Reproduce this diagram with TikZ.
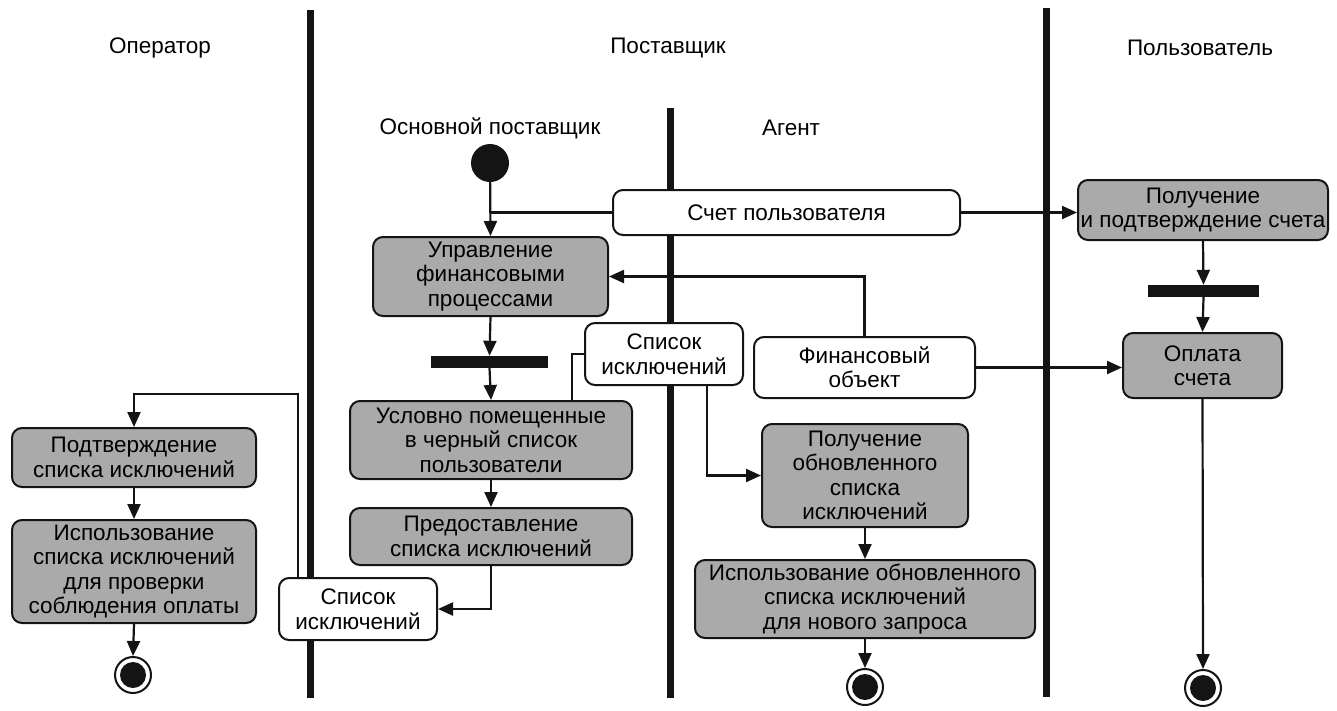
\documentclass[tikz,border=0pt]{standalone}
\usepackage{fontspec}
\setmainfont{Liberation Sans}
\usetikzlibrary{arrows.meta}
\definecolor{boxgray}{RGB}{170,170,170}
\definecolor{ink}{RGB}{20,20,20}
\tikzset{
  act/.style={draw=ink, line width=2pt, rounded corners=10pt, fill=boxgray, align=center, inner sep=0pt, font=\fontsize{22.5}{24.5}\selectfont},
  obj/.style={draw=ink, line width=2pt, rounded corners=10pt, fill=white, align=center, inner sep=0pt, font=\fontsize{22.5}{24.5}\selectfont},
  bar/.style={fill=ink, inner sep=0pt, rectangle},
  lane/.style={draw=ink, line width=7pt},
  flow/.style={draw=ink, line width=2.2pt, -{Triangle[length=15pt,width=13pt]}},
  plain/.style={draw=ink, line width=2.2pt},
  title/.style={font=\fontsize{22.5}{24.5}\selectfont, inner sep=0pt},
  startnode/.style={circle, fill=ink, minimum size=38pt, inner sep=0pt},
  endnode/.style={circle, draw=ink, line width=2pt, fill=white, minimum size=36pt, inner sep=0pt},
}
\begin{document}
\begin{tikzpicture}[x=1pt,y=-1pt]
\useasboundingbox (0,0) rectangle (1337,710);
% swimlane dividers
\coordinate (l1t) at (310,10);  \coordinate (l1b) at (310,698);
\coordinate (l2t) at (670,108); \coordinate (l2b) at (670,698);
\coordinate (l3t) at (1046,8);  \coordinate (l3b) at (1046,697);
\draw[lane] (l1t) -- (l1b);
\draw[lane] (l2t) -- (l2b);
\draw[lane] (l3t) -- (l3b);
% titles
\node[title] (t1) at (160,48) {Оператор};
\node[title] (t2) at (668,48) {Поставщик};
\node[title] (t3) at (1200,48) {Пользователь};
\node[title] (t4) at (490,128) {Основной поставщик};
\node[title] (t5) at (791,128) {Агент};
% nodes
\node[startnode] (start) at (490,163) {};
\node[act, minimum width=235pt, minimum height=79pt] (upr) at (490.5,276.5) {Управление\\финансовыми\\процессами};
\node[bar, minimum width=117pt, minimum height=12pt] (bar1) at (489.5,362) {};
\node[act, minimum width=282pt, minimum height=78pt] (usl) at (491,440) {Условно помещенные\\в черный список\\пользователи};
\node[act, minimum width=282pt, minimum height=57pt] (pred) at (491,536.5) {Предоставление\\списка исключений};
\node[obj, minimum width=158pt, minimum height=62pt] (spis1) at (358,609) {Список\\исключений};
\node[act, minimum width=244pt, minimum height=59pt] (pod) at (134,457.5) {Подтверждение\\списка исключений};
\node[act, minimum width=244pt, minimum height=103pt] (isp) at (134,571.5) {Использование\\списка исключений\\для проверки\\соблюдения оплаты};
\node[endnode] (opend) at (133,675) {};
\fill[ink] (opend) circle (13pt);
\node[obj, minimum width=347pt, minimum height=45pt] (schet) at (786.5,212.5) {Счет пользователя};
\node[obj, minimum width=158pt, minimum height=62pt] (spis2) at (664,354) {Список\\исключений};
\node[obj, minimum width=221pt, minimum height=61pt] (fin) at (864.5,367.5) {Финансовый\\объект};
\node[act, minimum width=206pt, minimum height=103pt] (polobn) at (865,475.5) {Получение\\обновленного\\списка\\исключений};
\node[act, minimum width=340pt, minimum height=78pt] (ispobn) at (865,599) {Использование обновленного\\списка исключений\\для нового запроса};
\node[endnode] (agend) at (865,687) {};
\fill[ink] (agend) circle (13pt);
\node[act, minimum width=250pt, minimum height=60pt] (polsch) at (1203,210) {Получение\\и подтверждение счета};
\node[bar, minimum width=111pt, minimum height=12pt] (bar2) at (1203.5,291) {};
\node[act, minimum width=159pt, minimum height=65pt] (opl) at (1202.5,365.5) {Оплата\\счета};
\node[endnode] (usend) at (1203,688) {};
\fill[ink] (usend) circle (13pt);
% helper coordinates
\coordinate (k1) at (572,354);
\coordinate (k2) at (707,385);
\coordinate (k3) at (298,394);
% connectors
\draw[flow] (start) -- (upr.north);
\draw[plain] (schet.west) -- (start |- schet.west);
\draw[flow] (schet.east) -- (schet.east -| polsch.west);
\draw[flow] (fin.north) |- (upr.east);
\draw[flow] (fin.east) -- (fin.east -| opl.west);
\draw[flow] (upr.south) -- (bar1.north);
\draw[flow] (bar1.south) -- (usl.north);
\draw[plain] (spis2.west) -- (k1) -- (k1 |- usl.north);
\draw[flow] (k2) |- (polobn.west);
\draw[flow] (polobn.south) -- (ispobn.north);
\draw[flow] (ispobn.south) -- (agend.north);
\draw[flow] (usl.south) -- (pred.north);
\draw[flow] (pred.south) |- (spis1.east);
\draw[flow] (k3 |- spis1.north) -- (k3) -| (pod.north);
\draw[flow] (pod.south) -- (isp.north);
\draw[flow] (isp.south) -- (opend.north);
\draw[flow] (polsch.south) -- (bar2.north);
\draw[flow] (bar2.south) -- (opl.north);
\draw[flow] (opl.south) -- (usend.north);
\end{tikzpicture}
\end{document}
